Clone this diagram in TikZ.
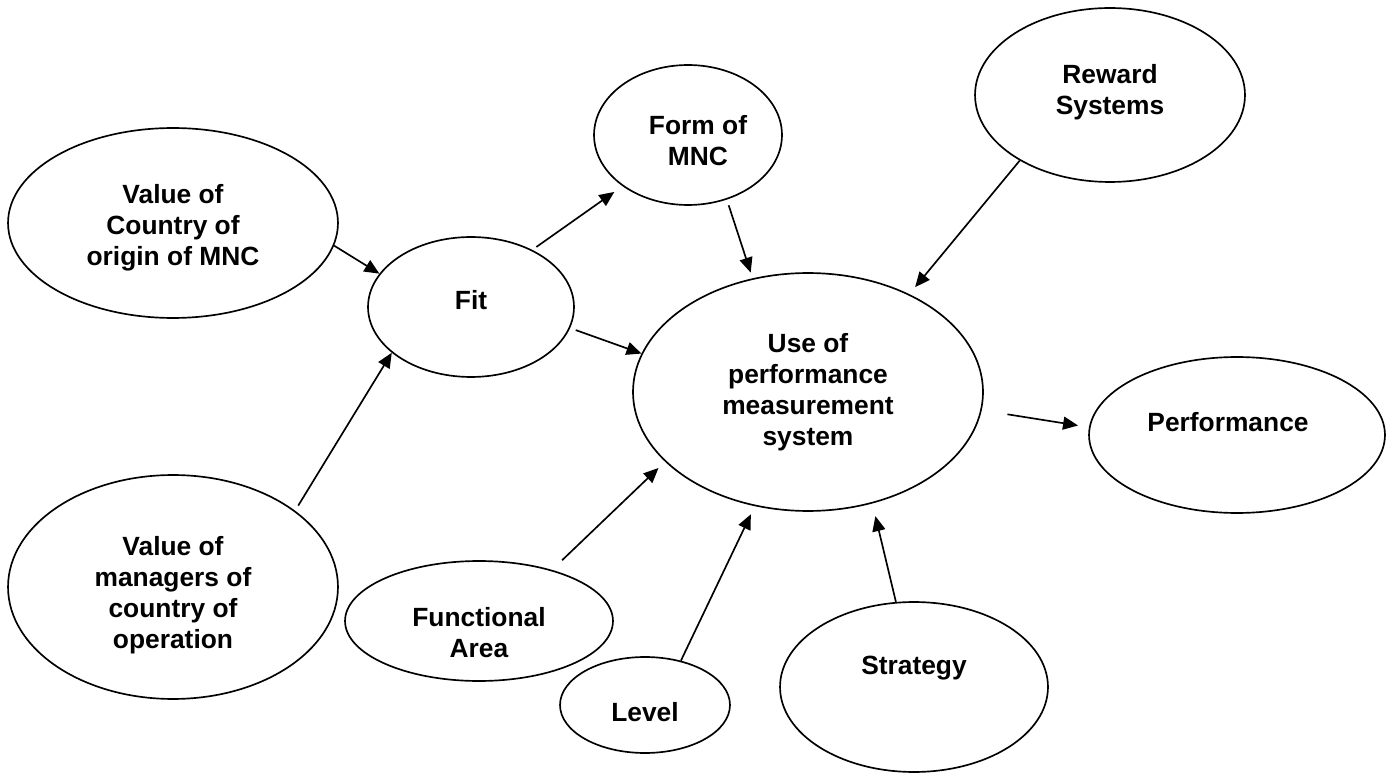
\documentclass[tikz,border=0pt]{standalone}
\usepackage{fontspec}
\setmainfont{Liberation Sans}
\usetikzlibrary{shapes.geometric,arrows.meta}
\begin{document}
\begin{tikzpicture}[x=0.02cm,y=-0.02cm,
  ell/.style={draw,ellipse,line width=0.95pt,inner sep=0pt},
  txt/.style={font=\fontsize{15}{17.6}\selectfont\bfseries,align=center,inner sep=0pt},
  arr/.style={-{Triangle[length=0.3cm,width=0.26cm]},line width=0.95pt}]
\useasboundingbox (0,0) rectangle (1393,773);

\node[ell,minimum width=6.6cm,minimum height=3.8cm,
  label={[txt,yshift=-0.1cm]center:{Value of\\Country of\\origin of MNC}}] (origin) at (173,223) {};
\node[ell,minimum width=4.12cm,minimum height=2.8cm,
  label={[txt,yshift=0.14cm]center:{Fit}}] (fit) at (471,307) {};
\node[ell,minimum width=3.76cm,minimum height=2.8cm,
  label={[txt,xshift=0.2cm,yshift=-0.12cm]center:{Form of\\MNC}}] (form) at (688,135) {};
\node[ell,minimum width=5.4cm,minimum height=3.48cm,
  label={[txt,yshift=0.06cm]center:{Reward\\Systems}}] (reward) at (1110,95) {};
\node[ell,minimum width=7.0cm,minimum height=4.76cm,
  label={[txt]center:{Use of\\performance\\measurement\\system}}] (use) at (808,392) {};
\node[ell,minimum width=5.92cm,minimum height=3.12cm,
  label={[txt,xshift=-0.18cm,yshift=0.26cm]center:{Performance}}] (perf) at (1237,435) {};
\node[ell,minimum width=6.6cm,minimum height=4.48cm,
  label={[txt,yshift=-0.16cm]center:{Value of\\managers of\\country of\\operation}}] (managers) at (173,587) {};
\node[ell,minimum width=5.36cm,minimum height=2.4cm,
  label={[txt,yshift=-0.24cm]center:{Functional\\Area}}] (func) at (479,621) {};
\node[ell,minimum width=3.4cm,minimum height=1.92cm,
  label={[txt,yshift=-0.14cm]center:{Level}}] (level) at (645,705) {};
\node[ell,minimum width=5.36cm,minimum height=3.4cm,
  label={[txt,yshift=0.38cm]center:{Strategy}}] (strategy) at (914,687) {};

\draw[arr] (origin.-8.8) -- (fit.160.6);
\draw[arr,shorten <=0.12cm] (managers.32.8) -- (fit.210.2);
\draw[arr,shorten <=0.1cm,shorten >=0.2cm] (fit.43.2) -- (form.218);
\draw[arr,shorten <=0.12cm] (fit.-12.5) -- (use.167.9);
\draw[arr,shorten <=0.12cm,shorten >=0.12cm] (form.-59.6) -- (use.116);
\draw[arr,shorten >=0.18cm] (reward.216.2) -- (use.44.2);
\draw[arr,shorten <=0.28cm,shorten >=0.18cm] (func.35.4) -- (use.206.1);
\draw[arr,shorten >=0.18cm] (level.51.8) -- (use.245.9);
\draw[arr,shorten >=0.26cm] (strategy.102.4) -- (use.-60.7);
\draw[arr,shorten <=0.52cm,shorten >=0.22cm] (use.-6.3) -- (perf.177.5);
\end{tikzpicture}
\end{document}
